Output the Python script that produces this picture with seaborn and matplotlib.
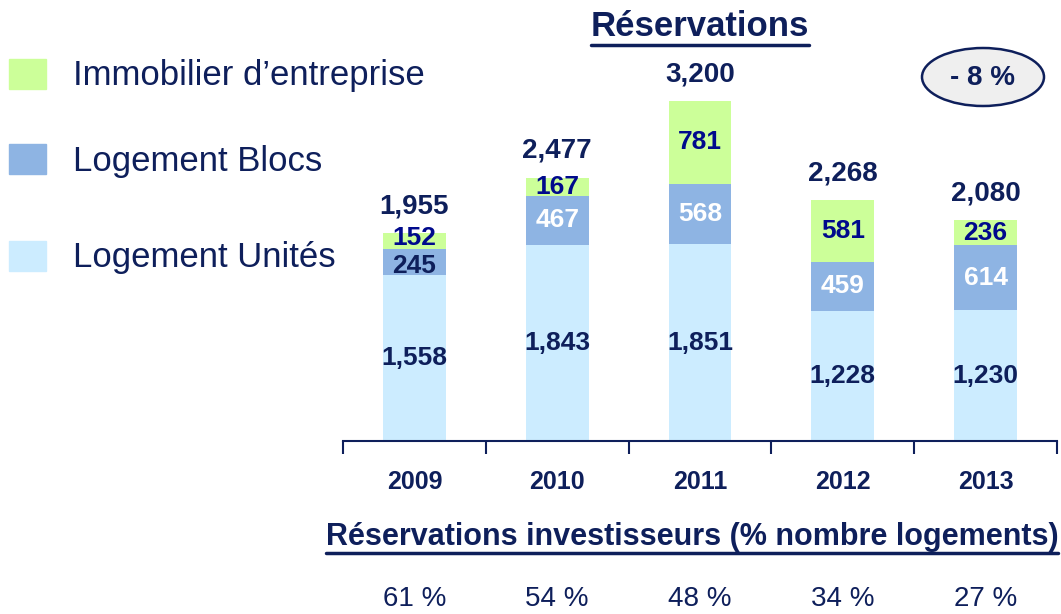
import numpy as np
import pandas as pd
import seaborn as sns
import matplotlib
from matplotlib import pyplot as plt
from matplotlib.patches import Ellipse
from matplotlib.lines import Line2D

years = ["2009", "2010", "2011", "2012", "2013"]
unites = [1558, 1843, 1851, 1228, 1230]
blocs = [245, 467, 568, 459, 614]
immo = [152, 167, 781, 581, 236]
totaux = [1955, 2477, 3200, 2268, 2080]
investisseurs = ["61 %", "54 %", "48 %", "34 %", "27 %"]

sns.set_style("white")
plt.rcParams["font.family"] = ["Liberation Sans", "DejaVu Sans"]

navy = "#0E1F5B"
bright = "#000A8C"
c_immo = "#CCFF99"
c_blocs = "#8EB4E3"
c_unites = "#CCECFF"

df = pd.DataFrame({"year": years, "unites": unites, "blocs": blocs, "immo": immo})
df["ub"] = df["unites"] + df["blocs"]
df["tot"] = df["ub"] + df["immo"]

fig = plt.figure(figsize=(10.61, 6.14), dpi=100)
W, H = 1061, 614
base_px = 441
ax = fig.add_axes([343 / W, (H - base_px) / H, (1057 - 343) / W, 382.5 / H])

for col, c in [("tot", c_immo), ("ub", c_blocs), ("unites", c_unites)]:
    sns.barplot(data=df, x="year", y=col, color=c, width=0.44, ax=ax,
                saturation=1, edgecolor="none")

ax.set_ylim(0, 3600)
ax.set_xlim(-0.5, 4.5)
ax.set_ylabel("")
ax.set_xlabel("")
ax.set_yticks([])
for s in ["top", "right", "left"]:
    ax.spines[s].set_visible(False)
ax.spines["bottom"].set_color(navy)
ax.spines["bottom"].set_linewidth(1.5)
ax.set_xticks(np.arange(5))
ax.set_xticklabels(years, fontsize=18, fontweight="bold", color=navy)
ax.tick_params(axis="x", which="major", length=0, pad=21)
ax.set_xticks(np.arange(-0.5, 5, 1), minor=True)
ax.tick_params(axis="x", which="minor", bottom=True, length=9, width=1.5, color=navy,
               direction="out")

fs = 19
nudge = [(3, -4), (0, 0), (0, 0), (0, 0), (0, 0)]
for i in range(5):
    ax.text(i, unites[i] / 2, f"{unites[i]:,}", ha="center", va="center",
            fontsize=fs, fontweight="bold", color=navy)
    bc = navy if i == 0 else "white"
    ax.annotate(f"{blocs[i]:,}", (i, unites[i] + blocs[i] / 2), xytext=(0, nudge[i][1]),
                textcoords="offset pixels", ha="center", va="center",
                fontsize=fs, fontweight="bold", color=bc)
    ax.annotate(f"{immo[i]:,}", (i, unites[i] + blocs[i] + immo[i] / 2), xytext=(0, nudge[i][0]),
                textcoords="offset pixels", ha="center", va="center",
                fontsize=fs, fontweight="bold", color=bright)
    ax.annotate(f"{totaux[i]:,}", (i, totaux[i]), xytext=(0, 10), textcoords="offset points",
                ha="center", va="bottom", fontsize=20, fontweight="bold", color=navy)

# legend
leg = [("Immobilier d\u2019entreprise", c_immo, 74), ("Logement Blocs", c_blocs, 159),
       ("Logement Unités", c_unites, 256)]
for label, c, yc in leg:
    fig.patches.append(matplotlib.patches.Rectangle((9 / W, (H - yc - 15) / H), 37 / W, 30 / H,
                                                    transform=fig.transFigure, color=c))
    fig.text(73 / W, (H - yc - 2) / H, label, ha="left", va="center", fontsize=25, color=navy)

# titles
t1 = fig.text(700 / W, (H - 27) / H, "Réservations", ha="center", va="center",
              fontsize=25, fontweight="bold", color=navy)
t2 = fig.text(692 / W, (H - 537) / H, "Réservations investisseurs (% nombre logements)",
              ha="center", va="center", fontsize=22, fontweight="bold", color=navy)

for i, p in enumerate(investisseurs):
    ax.annotate(p, (i, 0), xycoords=("data", "axes fraction"), xytext=(0, -158),
                textcoords="offset pixels", ha="center", va="center", fontsize=20, color=navy)

# ellipse
fig.patches.append(Ellipse((983 / W, (H - 77) / H), 122 / W, 58 / H, transform=fig.transFigure,
                           facecolor="#EFEFEF", edgecolor=navy, linewidth=1.8))
fig.text(983 / W, (H - 78) / H, "- 8 %", ha="center", va="center", fontsize=20,
         fontweight="bold", color=navy)

fig.canvas.draw()
r = fig.canvas.get_renderer()
for t in [t1, t2]:
    bb = t.get_window_extent(r)
    y = bb.y0 - 1
    fig.add_artist(Line2D([bb.x0 / W, bb.x1 / W], [y / H, y / H], transform=fig.transFigure,
                          color=navy, linewidth=2.5))

fig.savefig("out.png", dpi=100)
